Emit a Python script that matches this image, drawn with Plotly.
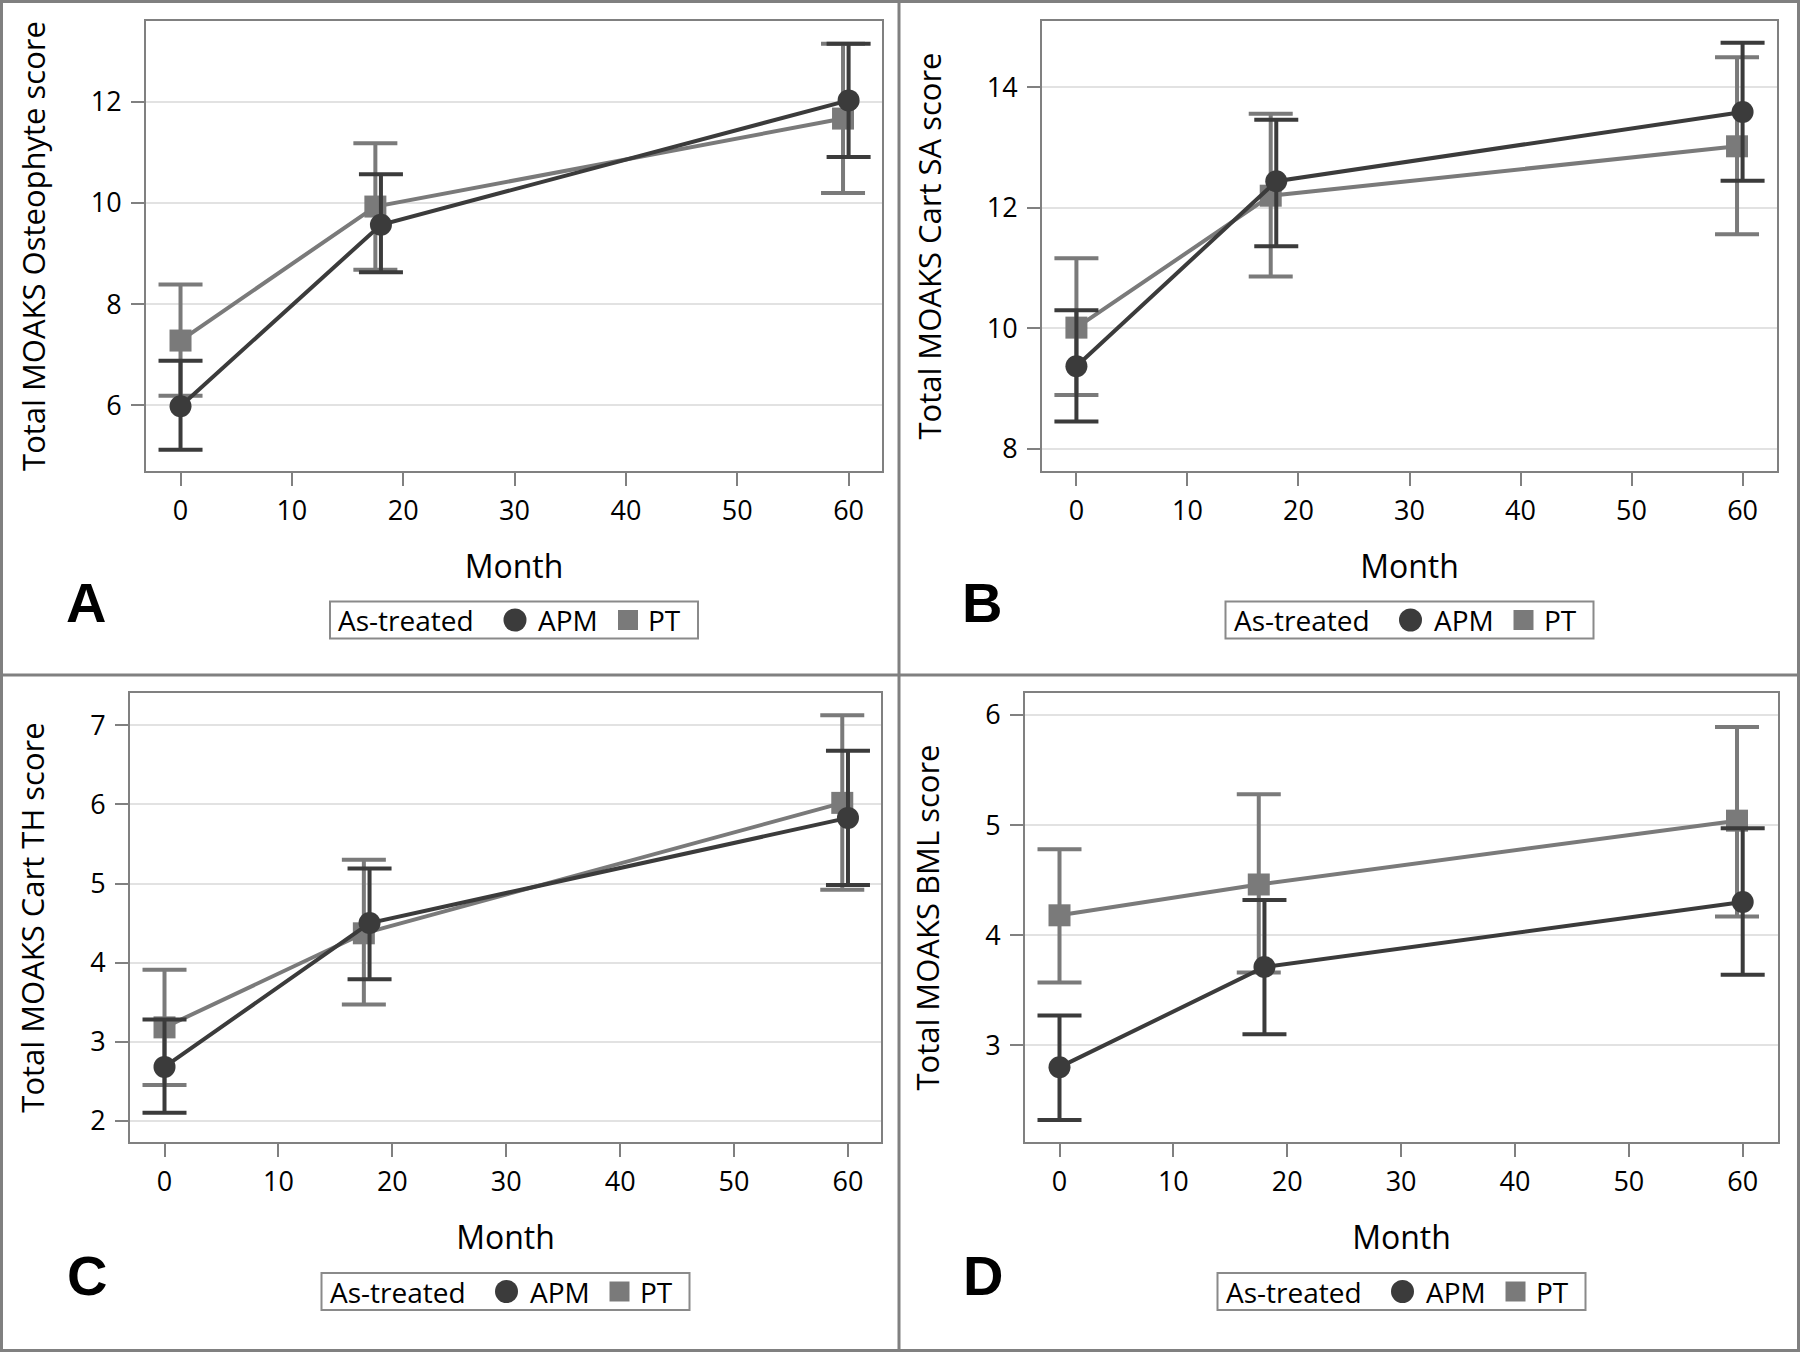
import plotly.graph_objects as go

# ---------------- data ----------------
months_apm = [0, 18, 60]
months_pt = [0, 17.5, 59.5]
group_names = ["APM", "PT"]
legend_title = "As-treated"
x_title = "Month"
panel_letters = ["A", "B", "C", "D"]
y_titles = [
    "Total MOAKS Osteophyte score",
    "Total MOAKS Cart SA score",
    "Total MOAKS Cart TH score",
    "Total MOAKS BML score",
]

# Panel A - Osteophyte
a_apm_mean = [5.98, 9.57, 12.03]
a_apm_lo = [5.12, 8.63, 10.91]
a_apm_hi = [6.88, 10.57, 13.15]
a_pt_mean = [7.28, 9.93, 11.67]
a_pt_lo = [6.19, 8.68, 10.20]
a_pt_hi = [8.39, 11.18, 13.15]

# Panel B - Cart SA
b_apm_mean = [9.37, 12.44, 13.59]
b_apm_lo = [8.45, 11.36, 12.45]
b_apm_hi = [10.30, 13.46, 14.74]
b_pt_mean = [10.01, 12.20, 13.02]
b_pt_lo = [8.89, 10.86, 11.56]
b_pt_hi = [11.16, 13.56, 14.50]

# Panel C - Cart TH
c_apm_mean = [2.68, 4.50, 5.83]
c_apm_lo = [2.10, 3.79, 4.98]
c_apm_hi = [3.28, 5.19, 6.68]
c_pt_mean = [3.18, 4.37, 6.02]
c_pt_lo = [2.45, 3.47, 4.92]
c_pt_hi = [3.91, 5.30, 7.13]

# Panel D - BML
d_apm_mean = [2.80, 3.71, 4.30]
d_apm_lo = [2.32, 3.10, 3.64]
d_apm_hi = [3.27, 4.32, 4.97]
d_pt_mean = [4.18, 4.46, 5.04]
d_pt_lo = [3.57, 3.66, 4.17]
d_pt_hi = [4.78, 5.28, 5.89]

x_ticks = [0, 10, 20, 30, 40, 50, 60]
y_ticks = [[6, 8, 10, 12], [8, 10, 12, 14], [2, 3, 4, 5, 6, 7], [3, 4, 5, 6]]
y_ranges = [[4.70, 13.60], [7.63, 15.10], [1.73, 7.41], [2.12, 6.20]]
x_ranges = [[-3.1, 63.0], [-3.1, 63.1], [-3.03, 62.9], [-3.03, 63.1]]

panels_data = [
    (a_apm_mean, a_apm_lo, a_apm_hi, a_pt_mean, a_pt_lo, a_pt_hi),
    (b_apm_mean, b_apm_lo, b_apm_hi, b_pt_mean, b_pt_lo, b_pt_hi),
    (c_apm_mean, c_apm_lo, c_apm_hi, c_pt_mean, c_pt_lo, c_pt_hi),
    (d_apm_mean, d_apm_lo, d_apm_hi, d_pt_mean, d_pt_lo, d_pt_hi),
]

# ---------------- styling / layout ----------------
W, H = 1800, 1352
APM_COLOR = "#3b3b3b"
PT_COLOR = "#7a7a7a"
FRAME = "#808080"
GRID = "#e2e2e2"
FONT = "Open Sans"

# plot-area boxes in pixels: (left, right, top, bottom)
boxes = [
    (146, 882, 21, 471),
    (1042, 1777, 21, 471),
    (130, 881, 693, 1142),
    (1025, 1778, 693, 1142),
]
letter_pos = [(86, 603), (982, 603), (87, 1275), (983, 1275)]
legend_top = [601.5, 601.5, 1273, 1273]


def px_x(p):
    return p / W


def px_y(p):
    return 1 - p / H


fig = go.Figure()
layout_axes = {}
annotations = []
shapes = []

for i, (apm_m, apm_lo, apm_hi, pt_m, pt_lo, pt_hi) in enumerate(panels_data):
    k = i + 1
    xa = "x" if k == 1 else f"x{k}"
    ya = "y" if k == 1 else f"y{k}"

    series = [
        (group_names[1], months_pt, pt_m, pt_lo, pt_hi, PT_COLOR, "square"),
        (group_names[0], months_apm, apm_m, apm_lo, apm_hi, APM_COLOR, "circle"),
    ]
    for name, xs, m, lo, hi, col, sym in series:
        fig.add_trace(go.Scatter(
            x=xs, y=m, mode="lines+markers", name=name,
            line=dict(color=col, width=4),
            marker=dict(color=col, size=22, symbol=sym),
            error_y=dict(type="data", symmetric=False,
                         array=[h - v for h, v in zip(hi, m)],
                         arrayminus=[v - l for v, l in zip(m, lo)],
                         color=col, thickness=4, width=22),
            xaxis=xa, yaxis=ya, showlegend=False,
        ))

    l, r, t, b = boxes[i]
    xkey = "xaxis" if k == 1 else f"xaxis{k}"
    ykey = "yaxis" if k == 1 else f"yaxis{k}"
    layout_axes[xkey] = dict(
        domain=[px_x(l), px_x(r)], anchor=ya, range=x_ranges[i],
        tickvals=x_ticks, ticks="outside", ticklen=13, tickwidth=2,
        tickcolor=FRAME, showline=True, linecolor=FRAME, linewidth=2,
        mirror=True, showgrid=False, zeroline=False,
        tickfont=dict(family=FONT, size=27, color="#000"),
        ticklabelstandoff=2,
        title=dict(text=x_title, font=dict(family=FONT, size=32, color="#000"),
                   standoff=28),
        automargin=False,
    )
    layout_axes[ykey] = dict(
        domain=[px_y(b), px_y(t)], anchor=xa, range=y_ranges[i],
        tickvals=y_ticks[i], ticks="outside", ticklen=13, tickwidth=2,
        tickcolor=FRAME, showline=True, linecolor=FRAME, linewidth=2,
        mirror=True, showgrid=True, gridcolor=GRID, gridwidth=2,
        zeroline=False,
        tickfont=dict(family=FONT, size=27, color="#000"),
        ticklabelstandoff=4,
        title=dict(text=y_titles[i], font=dict(family=FONT, size=31, color="#000"),
                   standoff=36),
        automargin=False,
    )
    # panel letter
    lx, ly = letter_pos[i]
    annotations.append(dict(
        text=f"<b>{panel_letters[i]}</b>", x=px_x(lx), y=px_y(ly),
        xref="paper", yref="paper", showarrow=False,
        xanchor="center", yanchor="middle",
        font=dict(family="Liberation Sans", size=56, color="#000"),
    ))

    # legend box (drawn manually to match the SAS style)
    cx = (l + r) / 2
    bx0 = cx - 184
    by0 = legend_top[i]
    by1 = by0 + 37
    cy = (by0 + by1) / 2
    shapes.append(dict(type="rect", xref="paper", yref="paper",
                       x0=px_x(bx0), x1=px_x(bx0 + 368),
                       y0=px_y(by1), y1=px_y(by0),
                       line=dict(color="#8a8a8a", width=2), fillcolor="white"))
    shapes.append(dict(type="circle", xref="paper", yref="paper",
                       x0=px_x(bx0 + 185 - 11.5), x1=px_x(bx0 + 185 + 11.5),
                       y0=px_y(cy + 11.5), y1=px_y(cy - 11.5),
                       line=dict(width=0), fillcolor=APM_COLOR))
    shapes.append(dict(type="rect", xref="paper", yref="paper",
                       x0=px_x(bx0 + 298 - 10), x1=px_x(bx0 + 298 + 10),
                       y0=px_y(cy + 10), y1=px_y(cy - 10),
                       line=dict(width=0), fillcolor=PT_COLOR))
    for txt, off in [(legend_title, 6), (group_names[0], 206), (group_names[1], 316)]:
        annotations.append(dict(
            text=txt, x=px_x(bx0 + off), y=px_y(cy), xref="paper", yref="paper",
            showarrow=False, xanchor="left", yanchor="middle",
            font=dict(family=FONT, size=28, color="#000"),
        ))

shapes += [
    dict(type="rect", xref="paper", yref="paper", x0=px_x(1.5), x1=px_x(1798.5),
         y0=px_y(1350.5), y1=px_y(1.5), line=dict(color=FRAME, width=3)),
    dict(type="line", xref="paper", yref="paper", x0=px_x(899), x1=px_x(899),
         y0=0, y1=1, line=dict(color=FRAME, width=3)),
    dict(type="line", xref="paper", yref="paper", x0=0, x1=1,
         y0=px_y(675), y1=px_y(675), line=dict(color=FRAME, width=3)),
]

fig.update_layout(
    template="none",
    width=W, height=H,
    margin=dict(l=0, r=0, t=0, b=0),
    paper_bgcolor="white", plot_bgcolor="white",
    font=dict(family=FONT, color="#000"),
    showlegend=False,
    annotations=annotations, shapes=shapes,
    **layout_axes,
)

fig.write_html("out.html", config={"displayModeBar": False},
               post_script="document.body.style.margin='0';")
